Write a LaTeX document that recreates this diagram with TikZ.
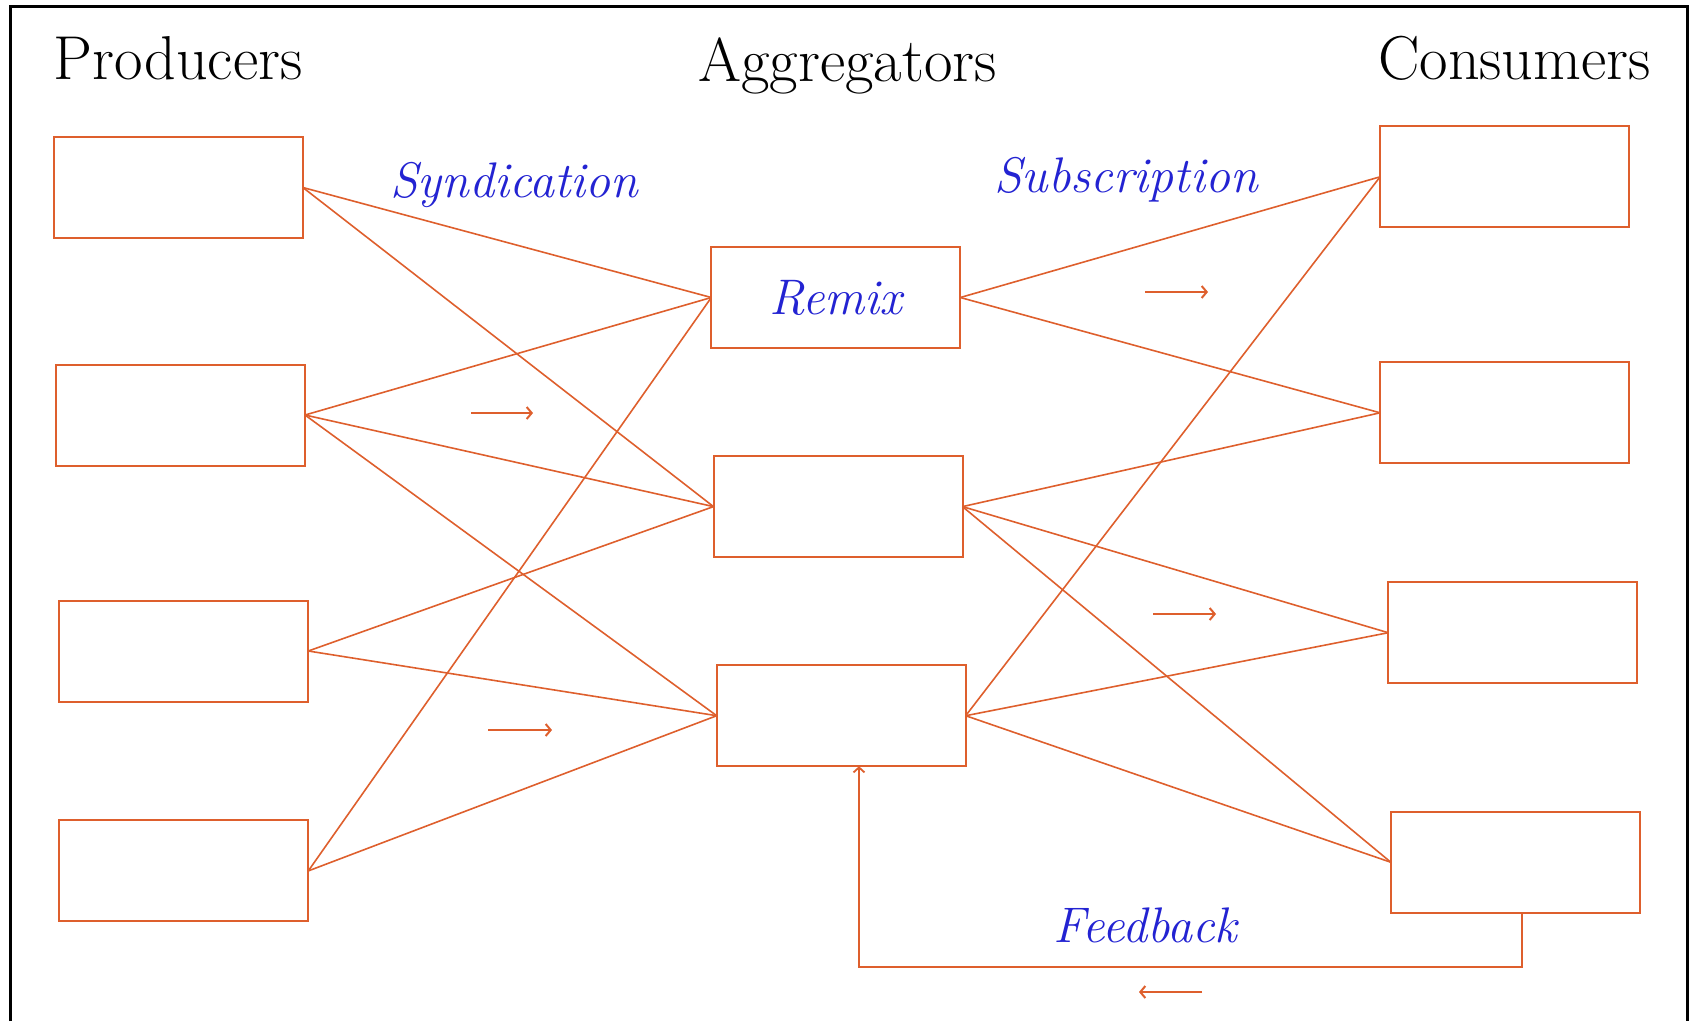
\documentclass[tikz,border=0pt]{standalone}
\usepackage{fontspec}
\usetikzlibrary{arrows.meta}
\definecolor{orng}{RGB}{222,95,45}
\definecolor{blu}{RGB}{35,35,210}
\begin{document}
\begin{tikzpicture}[x=1pt,y=-1pt,
  box/.style={draw=orng, line width=2pt, minimum width=249pt, minimum height=101pt, inner sep=0pt, outer sep=0pt},
  link/.style={draw=orng, line width=1.6pt},
  head/.style={font=\fontsize{62}{66}\selectfont, anchor=base, inner sep=0pt},
  lbl/.style={text=blu, font=\fontsize{50}{54}\selectfont\itshape},
  flow/.style={draw=orng, line width=2pt, -{Straight Barb[length=5pt,width=12pt]}}]
\useasboundingbox (0,0) rectangle (1690,1021);
% frame
\draw[line width=3pt] (10,1021) -- (10,6) -- (1687,6) -- (1687,1021);
% headings
\node[head] (hP) at (178,79) {Producers};
\node[head] (hA) at (847.5,81) {Aggregators};
\node[head] (hC) at (1514.5,79) {Consumers};
% producers
\node[box] (P1) at (178.4,187.5) {};
\node[box] (P2) at (180.5,415) {};
\node[box] (P3) at (183.8,651) {};
\node[box] (P4) at (183.8,870.9) {};
% aggregators
\node[box,lbl] (A1) at (835.8,297.5) {Remix};
\node[box] (A2) at (838,506.6) {};
\node[box] (A3) at (841.2,715.7) {};
% consumers
\node[box] (C1) at (1504.6,176.8) {};
\node[box] (C2) at (1504.6,412.8) {};
\node[box] (C3) at (1512.7,632.7) {};
\node[box] (C4) at (1515.4,862.3) {};
% labels
\node[lbl, anchor=base, inner sep=0pt] (lS) at (514,197) {Syndication};
\node[lbl, anchor=base, inner sep=0pt] (lU) at (1126,192) {Subscription};
\node[lbl, anchor=base, inner sep=0pt] (lF) at (1145.5,942) {Feedback};
% producer -> aggregator links
\draw[link] (P1.east) -- (A1.west);
\draw[link] (P1.east) -- (A2.west);
\draw[link] (P2.east) -- (A1.west);
\draw[link] (P2.east) -- (A2.west);
\draw[link] (P2.east) -- (A3.west);
\draw[link] (P3.east) -- (A2.west);
\draw[link] (P3.east) -- (A3.west);
\draw[link] (P4.east) -- (A1.west);
\draw[link] (P4.east) -- (A3.west);
% aggregator -> consumer links
\draw[link] (A1.east) -- (C1.west);
\draw[link] (A1.east) -- (C2.west);
\draw[link] (A2.east) -- (C2.west);
\draw[link] (A2.east) -- (C3.west);
\draw[link] (A2.east) -- (C4.west);
\draw[link] (A3.east) -- (C1.west);
\draw[link] (A3.east) -- (C3.west);
\draw[link] (A3.east) -- (C4.west);
% feedback
\coordinate (fbR) at (1522,967);
\coordinate (fbL) at (859,967);
\draw[link, line width=1.8pt, -{Straight Barb[length=5pt,width=11pt]}] (C4.south -| fbR) -- (fbR) -- (fbL) -- (A3.south -| fbL);
% direction arrows
\coordinate (a1s) at (471,413); \coordinate (a1e) at (533,413);
\coordinate (a2s) at (1145,292); \coordinate (a2e) at (1208,292);
\coordinate (a3s) at (488,730); \coordinate (a3e) at (552,730);
\coordinate (a4s) at (1153,614); \coordinate (a4e) at (1216,614);
\coordinate (a5s) at (1202,992); \coordinate (a5e) at (1139,992);
\draw[flow] (a1s) -- (a1e);
\draw[flow] (a2s) -- (a2e);
\draw[flow] (a3s) -- (a3e);
\draw[flow] (a4s) -- (a4e);
\draw[flow] (a5s) -- (a5e);
\end{tikzpicture}
\end{document}
